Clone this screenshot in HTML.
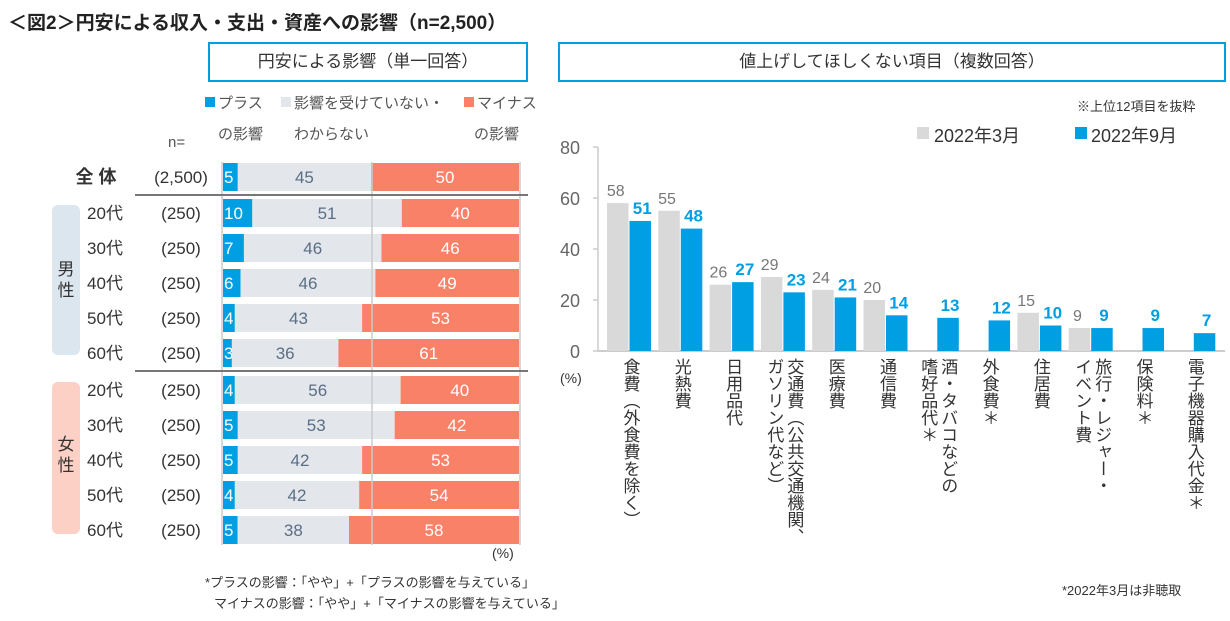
<!DOCTYPE html>
<html><head><meta charset="utf-8"><style>
body{margin:0;width:1230px;height:621px;background:#fff;font-family:"Liberation Sans","Noto Sans CJK JP",sans-serif;color:#333;position:relative;overflow:hidden}
.a{position:absolute;white-space:nowrap}
.vl{position:absolute;writing-mode:vertical-rl;font-size:17px;line-height:20px;color:#333;top:358px;letter-spacing:0px}
</style></head><body>
<div class="a" style="left:8px;top:8px;font-size:19px;font-weight:bold;color:#222">＜図2＞円安による収入・支出・資産への影響（n=2,500）</div>
<div class="a" style="left:208px;top:42px;width:320px;height:40px;border:2px solid #00a0e0;box-sizing:border-box;text-align:center;line-height:36px;font-size:17px">円安による影響（単一回答）</div>
<div class="a" style="left:558px;top:42px;width:668px;height:40px;border:2px solid #00a0e0;box-sizing:border-box;text-align:center;line-height:36px;font-size:17px">値上げしてほしくない項目（複数回答）</div>
<svg id="left" width="1230" height="621" style="position:absolute;left:0;top:0"></svg>
<svg id="right" width="1230" height="621" style="position:absolute;left:0;top:0"></svg>
<div id="labels"></div>
<div class="a" style="left:1077px;top:96px;font-size:13px">※上位12項目を抜粋</div>
<div class="a" style="left:205px;top:572px;font-size:13px">*プラスの影響：「やや」+「プラスの影響を与えている」</div>
<div class="a" style="left:214px;top:593px;font-size:13px">マイナスの影響：「やや」+「マイナスの影響を与えている」</div>
<div class="a" style="left:1062px;top:580px;font-size:13px">*2022年3月は非聴取</div>
<div class="a" style="left:492px;top:545px;font-size:14px">(%)</div>
<div class="a" style="left:560px;top:370px;font-size:14px">(%)</div>
<script>
const rowLabels=["全 体","20代","30代","40代","50代","60代","20代","30代","40代","50代","60代"];
const rowN=["(2,500)","(250)","(250)","(250)","(250)","(250)","(250)","(250)","(250)","(250)","(250)"];
const plusVals=[5,10,7,6,4,3,4,5,5,4,5];
const noneVals=[45,51,46,46,43,36,56,53,42,42,38];
const minusVals=[50,40,46,49,53,61,40,42,53,54,58];
const categories=["食費（外食費を除く）","光熱費","日用品代","交通費（公共交通機関、\nガソリン代など）","医療費","通信費","酒・タバコなどの\n嗜好品代＊","外食費＊","住居費","旅行・レジャー・\nイベント費","保険料＊","電子機器購入代金＊"];
const mar=[58,55,26,29,24,20,null,null,15,9,null,null];
const sep=[51,48,27,23,21,14,13,12,10,9,9,7];
const yTicks=[0,20,40,60,80];
const NS="http://www.w3.org/2000/svg";
function mk(svg,t,a,txt){const e=document.createElementNS(NS,t);for(const k in a)e.setAttribute(k,a[k]);if(txt!=null)e.textContent=txt;svg.appendChild(e);return e;}
const L=document.getElementById('left');
const x0=223,W=296;
const rowY=i=>i==0?177:(i<6?213+(i-1)*35:390+(i-6)*35);
let b=mk(L,'rect',{x:52,y:205,width:28,height:150,rx:6,fill:'#dce6ee'});
b=mk(L,'rect',{x:52,y:382,width:28,height:152,rx:6,fill:'#fcd0c4'});
mk(L,'text',{x:66,y:275,'text-anchor':'middle','font-size':17,fill:'#333'},'男');
mk(L,'text',{x:66,y:296,'text-anchor':'middle','font-size':17,fill:'#333'},'性');
mk(L,'text',{x:66,y:450,'text-anchor':'middle','font-size':17,fill:'#333'},'女');
mk(L,'text',{x:66,y:471,'text-anchor':'middle','font-size':17,fill:'#333'},'性');
[['#009fe3',205,'プラス'],['#e3e7ec',281,'影響を受けていない・'],['#f98168',464,'マイナス']].forEach((l,i)=>{
 let r=mk(L,'rect',{x:l[1],y:97,width:10,height:10,fill:l[0]});
 mk(L,'text',{x:l[1]+13,y:108,'font-size':15,fill:'#555'},l[2]);
});
mk(L,'text',{x:218,y:139,'font-size':15,fill:'#555'},'の影響');
mk(L,'text',{x:294,y:139,'font-size':15,fill:'#555'},'わからない');
mk(L,'text',{x:474,y:139,'font-size':15,fill:'#555'},'の影響');
mk(L,'text',{x:168,y:147,'font-size':15,fill:'#555'},'n=');
rowLabels.forEach((lab,i)=>{
 const y=rowY(i),h=28,t=y-h/2;
 const tot=plusVals[i]+noneVals[i]+minusVals[i];
 const xs=v=>x0+v/tot*W;
 const segs=[[0,plusVals[i],'#009fe3','#fff'],[plusVals[i],noneVals[i],'#e3e7ec','#5a6e85'],[plusVals[i]+noneVals[i],minusVals[i],'#f98168','#fff']];
 segs.forEach((s,j)=>{
  const x=xs(s[0]),w=xs(s[0]+s[1])-x;
  const r=mk(L,'rect',{x:x,y:t,width:Math.max(w,0),height:h,fill:s[2]});
  
  
  mk(L,'text',{x:j==0?x+1:x+w/2,y:y+6,'text-anchor':j==0?'start':'middle','font-size':17,fill:s[3]},s[1]);
 });
 mk(L,'text',{x:i==0?96:105,y:y+6,'text-anchor':'middle','font-size':i==0?18:17,'font-weight':i==0?'bold':'normal',fill:'#333'},lab);
 mk(L,'text',{x:i==0?181:181,y:y+6,'text-anchor':'middle','font-size':17,fill:'#333'},rowN[i]);
});
mk(L,'line',{x1:372,y1:162,x2:372,y2:545,stroke:'#ccc','stroke-width':1.5});
mk(L,'line',{x1:520,y1:162,x2:520,y2:545,stroke:'#ccc','stroke-width':1.5});
mk(L,'line',{x1:222,y1:162,x2:222,y2:545,stroke:'#ccc','stroke-width':1.5});
mk(L,'line',{x1:135,y1:195,x2:528,y2:195,stroke:'#777','stroke-width':2});
mk(L,'line',{x1:135,y1:371,x2:528,y2:371,stroke:'#777','stroke-width':2});
const R=document.getElementById('right');
const ax=598,y0=351,sc=(351-147)/80;const ys=v=>y0-v*sc;
const pitch=51.3,gx=i=>607+i*pitch,bw=21.5;
yTicks.forEach(t=>{mk(R,'text',{x:580,y:ys(t)+7,'text-anchor':'end','font-size':18,fill:'#666'},t);mk(R,'line',{x1:ax-5,y1:ys(t),x2:ax,y2:ys(t),stroke:'#ccc','stroke-width':1.5});});
mk(R,'line',{x1:ax,y1:ys(80),x2:ax,y2:y0,stroke:'#ccc','stroke-width':1.5});
mk(R,'line',{x1:ax,y1:y0,x2:1225,y2:y0,stroke:'#ccc','stroke-width':2});
let lg=mk(R,'rect',{x:917,y:127,width:12,height:12,fill:'#d9d9d9'});
mk(R,'text',{x:934,y:142,'font-size':18,fill:'#333'},'2022年3月');
lg=mk(R,'rect',{x:1075,y:127,width:12,height:12,fill:'#009fe3'});
mk(R,'text',{x:1091,y:142,'font-size':18,fill:'#333'},'2022年9月');
categories.forEach((c,i)=>{
 const x=gx(i);
 if(mar[i]!=null){const r=mk(R,'rect',{x:x,y:ys(mar[i]),width:bw,height:y0-ys(mar[i]),fill:'#d9d9d9'});
  
  mk(R,'text',{x:x+bw/2-2,y:ys(mar[i])-7,'text-anchor':'middle','font-size':16,fill:'#777'},mar[i]);}
 const r=mk(R,'rect',{x:x+bw+1,y:ys(sep[i]),width:bw,height:y0-ys(sep[i]),fill:'#009fe3'});
 
 mk(R,'text',{x:x+bw*1.5+3,y:ys(sep[i])-7,'text-anchor':'middle','font-size':17,'font-weight':'bold',fill:'#009fe3'},sep[i]);
 const d=document.createElement('div');d.className='vl';
 
 
 const lines=c.split('\n');d.innerHTML=lines.join('<br>');
 const wpx=lines.length*20;d.style.left=(x+bw+1-wpx/2)+'px';
 document.getElementById('labels').appendChild(d);
});
</script>
</body></html>
